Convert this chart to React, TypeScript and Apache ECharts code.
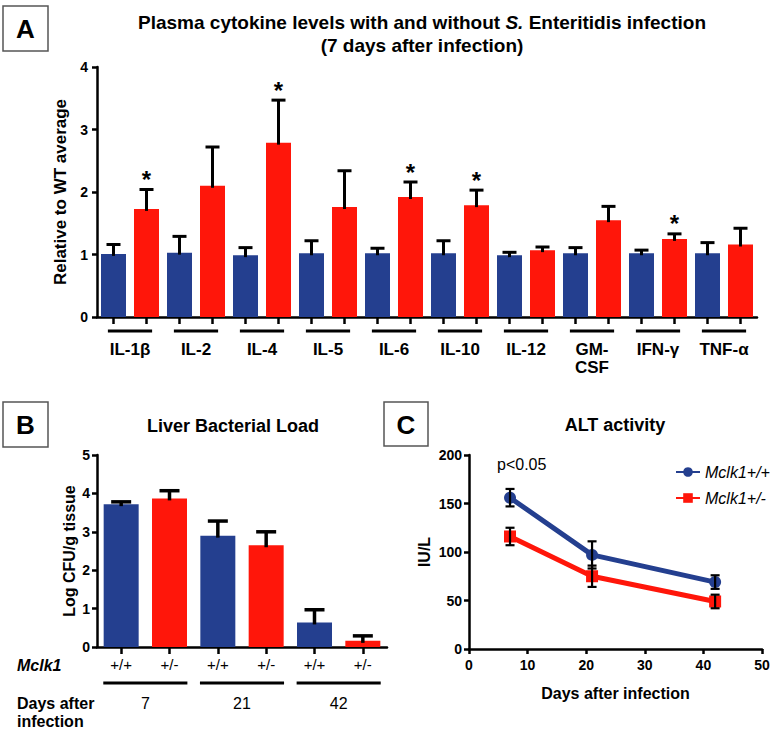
import React, { useEffect, useRef } from 'react';
import * as echarts from 'echarts';

// ---------- Panel A data ----------
const cytokines = ['IL-1β', 'IL-2', 'IL-4', 'IL-5', 'IL-6', 'IL-10', 'IL-12', 'GM-\nCSF', 'IFN-γ', 'TNF-α'];
const wtMean = [1.01, 1.03, 0.99, 1.02, 1.02, 1.02, 0.99, 1.02, 1.02, 1.02];
const wtErr = [0.15, 0.26, 0.12, 0.2, 0.08, 0.2, 0.045, 0.09, 0.05, 0.17];
const koMean = [1.73, 2.1, 2.79, 1.76, 1.92, 1.79, 1.07, 1.55, 1.25, 1.16];
const koErr = [0.31, 0.62, 0.68, 0.58, 0.24, 0.24, 0.05, 0.22, 0.08, 0.26];
const koSignificant = [true, false, true, false, true, true, false, false, true, false];

// ---------- Panel B data ----------
const genotypes = ['+/+', '+/-'];
const loadDays = ['7', '21', '42'];
const loadWt = [3.72, 2.9, 0.64];
const loadWtErr = [0.06, 0.38, 0.33];
const loadKo = [3.87, 2.65, 0.16];
const loadKoErr = [0.2, 0.35, 0.13];

// ---------- Panel C data ----------
const altDays = [7, 21, 42];
const altWt = [156, 97, 69];
const altWtErr = [9, 14, 7];
const altKo = [116, 75, 49];
const altKoErr = [9, 11, 7];
const legendNames = ['Mclk1+/+', 'Mclk1+/-'];

const BLUE = '#243F8F';
const RED = '#FF160A';
const FF = '"Liberation Sans", Arial, sans-serif';

export default function App() {
  const ref = useRef<HTMLDivElement>(null);

  useEffect(() => {
    if (!ref.current) return;
    const chart = echarts.init(ref.current, null, { renderer: 'svg' });

    // Panel A slots
    const aSlots: string[] = [];
    const aBars: any[] = [];
    const aErr: any[] = [];
    cytokines.forEach((c, i) => {
      aSlots.push(c + '|WT', c + '|KO');
      aBars.push({ value: wtMean[i], itemStyle: { color: BLUE } });
      aBars.push({ value: koMean[i], itemStyle: { color: RED } });
      aErr.push([2 * i, wtMean[i], wtErr[i], 0]);
      aErr.push([2 * i + 1, koMean[i], koErr[i], koSignificant[i] ? 1 : 0]);
    });

    // Panel B slots
    const bSlots: string[] = [];
    const bBars: any[] = [];
    const bErr: any[] = [];
    loadDays.forEach((d, i) => {
      bSlots.push(d + ' ' + genotypes[0], d + ' ' + genotypes[1]);
      bBars.push({ value: loadWt[i], itemStyle: { color: BLUE } });
      bBars.push({ value: loadKo[i], itemStyle: { color: RED } });
      bErr.push([2 * i, loadWt[i], loadWtErr[i]]);
      bErr.push([2 * i + 1, loadKo[i], loadKoErr[i]]);
    });

    const cErr: any[] = [];
    altDays.forEach((d, i) => {
      cErr.push([d, altWt[i], altWtErr[i]]);
      cErr.push([d, altKo[i], altKoErr[i]]);
    });

    const axisLine = { show: true, lineStyle: { color: '#000', width: 2.5 } };
    const tickLbl = { color: '#000', fontFamily: FF, fontWeight: 'bold' as const, fontSize: 14 };

    const upErr = (cap: number, lw: number) => (params: any, api: any) => {
      const x = api.value(0);
      const v = api.value(1);
      const e = api.value(2);
      const sig = api.value(3);
      const base = api.coord([x, v]);
      const top = api.coord([x, v + e]);
      const children: any[] = [
        { type: 'line', shape: { x1: base[0], y1: base[1] + 2, x2: top[0], y2: top[1] }, style: { stroke: '#000', lineWidth: lw } },
        { type: 'line', shape: { x1: top[0] - cap, y1: top[1], x2: top[0] + cap, y2: top[1] }, style: { stroke: '#000', lineWidth: lw } },
      ];
      if (sig === 1) {
        children.push({
          type: 'text',
          style: { text: '*', x: top[0], y: top[1] - 10, align: 'center', verticalAlign: 'middle', font: 'bold 24px ' + FF, fill: '#000' },
        });
      }
      return { type: 'group', children };
    };

    const underline = (frac: number, dy: number) => (params: any, api: any) => {
      const p = api.coord([api.value(0), 0]);
      const w = api.size([1, 0])[0] * frac;
      return {
        type: 'line',
        shape: { x1: p[0] - w / 2, y1: p[1] + dy, x2: p[0] + w / 2, y2: p[1] + dy },
        style: { stroke: '#000', lineWidth: 3 },
      };
    };

    const option: any = {
      animation: false,
      backgroundColor: '#fff',
      grid: [
        { left: 97, top: 67, width: 660, height: 250 },
        { left: 97, top: 455, width: 290, height: 192 },
        { left: 469, top: 455, width: 293, height: 194 },
      ],
      xAxis: [
        {
          type: 'category', gridIndex: 0, data: aSlots,
          axisLine, axisTick: { show: true, alignWithLabel: true, interval: 0, length: 7, lineStyle: { color: '#000', width: 2.5 } },
          axisLabel: { show: false },
        },
        {
          type: 'category', gridIndex: 0, data: cytokines, position: 'bottom', offset: 16,
          axisLine: { show: false }, axisTick: { show: false },
          axisLabel: { interval: 0, margin: 7, color: '#000', fontFamily: FF, fontWeight: 'bold', fontSize: 17, lineHeight: 18 },
        },
        {
          type: 'category', gridIndex: 1, data: bSlots,
          axisLine, axisTick: { show: true, alignWithLabel: true, interval: 0, length: 7, lineStyle: { color: '#000', width: 2.5 } },
          axisLabel: { interval: 0, margin: 10, color: '#000', fontFamily: FF, fontSize: 15, formatter: (v: string, i: number) => genotypes[i % 2] },
        },
        {
          type: 'category', gridIndex: 1, data: loadDays, position: 'bottom', offset: 40,
          axisLine: { show: false }, axisTick: { show: false },
          axisLabel: { interval: 0, margin: 8, color: '#000', fontFamily: FF, fontSize: 16 },
        },
        {
          type: 'value', gridIndex: 2, min: 0, max: 50, interval: 10,
          axisLine, axisTick: { show: true, length: 5, lineStyle: { color: '#000', width: 2.5 } },
          splitLine: { show: false },
          axisLabel: { ...tickLbl, margin: 9 },
          name: 'Days after infection', nameLocation: 'middle', nameGap: 36,
          nameTextStyle: { color: '#000', fontFamily: FF, fontWeight: 'bold', fontSize: 16 },
        },
      ],
      yAxis: [
        {
          type: 'value', gridIndex: 0, min: 0, max: 4, interval: 1,
          axisLine, axisTick: { show: true, length: 5, lineStyle: { color: '#000', width: 2.5 } },
          splitLine: { show: false },
          axisLabel: { ...tickLbl, margin: 9 },
          name: 'Relative to WT average', nameLocation: 'middle', nameGap: 16,
          nameTextStyle: { color: '#000', fontFamily: FF, fontWeight: 'bold', fontSize: 17 },
        },
        {
          type: 'value', gridIndex: 1, min: 0, max: 5, interval: 1,
          axisLine, axisTick: { show: true, length: 5, lineStyle: { color: '#000', width: 2.5 } },
          splitLine: { show: false },
          axisLabel: { ...tickLbl, margin: 7 },
          name: 'Log CFU/g tissue', nameLocation: 'middle', nameGap: 20,
          nameTextStyle: { color: '#000', fontFamily: FF, fontWeight: 'bold', fontSize: 16 },
        },
        {
          type: 'value', gridIndex: 2, min: 0, max: 200, interval: 50,
          axisLine, axisTick: { show: true, length: 5, lineStyle: { color: '#000', width: 2.5 } },
          splitLine: { show: false },
          axisLabel: { ...tickLbl, margin: 7 },
          name: 'IU/L', nameLocation: 'middle', nameGap: 37,
          nameTextStyle: { color: '#000', fontFamily: FF, fontWeight: 'bold', fontSize: 16 },
        },
      ],
      legend: {
        data: legendNames,
        orient: 'vertical', left: 670, top: 459,
        itemWidth: 24, itemHeight: 12, itemGap: 10,
        textStyle: { color: '#000', fontFamily: FF, fontStyle: 'italic', fontSize: 16 },
      },
      series: [
        { type: 'bar', name: 'cytokines', xAxisIndex: 0, yAxisIndex: 0, data: aBars, barWidth: 25, z: 2 },
        { type: 'custom', name: 'aErr', xAxisIndex: 0, yAxisIndex: 0, data: aErr, renderItem: upErr(7, 3), z: 3 },
        { type: 'custom', name: 'aUnder', xAxisIndex: 1, yAxisIndex: 0, data: cytokines.map((_, i) => [i, 0]), renderItem: underline(0.67, 14), z: 3 },
        { type: 'bar', name: 'load', xAxisIndex: 2, yAxisIndex: 1, data: bBars, barWidth: 35, z: 2 },
        { type: 'custom', name: 'bErr', xAxisIndex: 2, yAxisIndex: 1, data: bErr, renderItem: upErr(10, 3.5), z: 3 },
        { type: 'custom', name: 'bUnder', xAxisIndex: 3, yAxisIndex: 1, data: loadDays.map((_, i) => [i, 0]), renderItem: underline(0.87, 36), z: 3 },
        {
          type: 'line', name: legendNames[0], xAxisIndex: 4, yAxisIndex: 2,
          data: altDays.map((d, i) => [d, altWt[i]]),
          color: BLUE, lineStyle: { width: 5, color: BLUE }, itemStyle: { color: BLUE },
          symbol: 'circle', symbolSize: 12, z: 2,
        },
        {
          type: 'line', name: legendNames[1], xAxisIndex: 4, yAxisIndex: 2,
          data: altDays.map((d, i) => [d, altKo[i]]),
          color: RED, lineStyle: { width: 5, color: RED }, itemStyle: { color: RED },
          symbol: 'rect', symbolSize: 12, z: 2,
        },
        {
          type: 'custom', name: 'cErr', xAxisIndex: 4, yAxisIndex: 2, data: cErr, z: 4,
          renderItem: (params: any, api: any) => {
            const x = api.value(0), v = api.value(1), e = api.value(2);
            const t = api.coord([x, v + e]);
            const b = api.coord([x, v - e]);
            const st = { stroke: '#000', lineWidth: 2.2 };
            return {
              type: 'group',
              children: [
                { type: 'line', shape: { x1: t[0], y1: t[1], x2: b[0], y2: b[1] }, style: st },
                { type: 'line', shape: { x1: t[0] - 4.5, y1: t[1], x2: t[0] + 4.5, y2: t[1] }, style: st },
                { type: 'line', shape: { x1: b[0] - 4.5, y1: b[1], x2: b[0] + 4.5, y2: b[1] }, style: st },
              ],
            };
          },
        },
      ],
      graphic: [
        { type: 'rect', shape: { x: 3, y: 6, width: 45, height: 45 }, style: { fill: 'none', stroke: '#555', lineWidth: 1.5 } },
        { type: 'text', style: { text: 'A', x: 25.5, y: 29, align: 'center', verticalAlign: 'middle', font: 'bold 26px ' + FF, fill: '#000' } },
        { type: 'rect', shape: { x: 3, y: 402, width: 45, height: 45 }, style: { fill: 'none', stroke: '#555', lineWidth: 1.5 } },
        { type: 'text', style: { text: 'B', x: 25.5, y: 425, align: 'center', verticalAlign: 'middle', font: 'bold 26px ' + FF, fill: '#000' } },
        { type: 'rect', shape: { x: 384, y: 402, width: 44, height: 44 }, style: { fill: 'none', stroke: '#555', lineWidth: 1.5 } },
        { type: 'text', style: { text: 'C', x: 406, y: 425, align: 'center', verticalAlign: 'middle', font: 'bold 26px ' + FF, fill: '#000' } },
        {
          type: 'text',
          style: {
            text: '{b|Plasma cytokine levels with and without }{i|S.}{b| Enteritidis infection}',
            x: 422, y: 22, align: 'center', verticalAlign: 'middle',
            rich: {
              b: { font: 'bold 19px ' + FF, fill: '#000', fontWeight: 'bold', fontSize: 19, fontFamily: FF },
              i: { font: 'italic bold 19px ' + FF, fill: '#000', fontWeight: 'bold', fontStyle: 'italic', fontSize: 19, fontFamily: FF },
            },
          },
        },
        { type: 'text', style: { text: '(7 days after infection)', x: 422, y: 45, align: 'center', verticalAlign: 'middle', font: 'bold 19px ' + FF, fill: '#000' } },
        { type: 'text', style: { text: 'Liver Bacterial Load', x: 233, y: 426, align: 'center', verticalAlign: 'middle', font: 'bold 18px ' + FF, fill: '#000' } },
        { type: 'text', style: { text: 'ALT activity', x: 615, y: 425, align: 'center', verticalAlign: 'middle', font: 'bold 18px ' + FF, fill: '#000' } },
        { type: 'text', style: { text: 'p<0.05', x: 497, y: 464, align: 'left', verticalAlign: 'middle', font: '16px ' + FF, fill: '#000' } },
        { type: 'text', style: { text: 'Mclk1', x: 17, y: 665, align: 'left', verticalAlign: 'middle', font: 'italic bold 16px ' + FF, fill: '#000' } },
        { type: 'text', style: { text: 'Days after', x: 17, y: 703, align: 'left', verticalAlign: 'middle', font: 'bold 16px ' + FF, fill: '#000' } },
        { type: 'text', style: { text: 'infection', x: 17, y: 721, align: 'left', verticalAlign: 'middle', font: 'bold 16px ' + FF, fill: '#000' } },
      ],
    };

    chart.setOption(option);
    return () => chart.dispose();
  }, []);

  return (
    <div
      ref={ref}
      style={{ position: 'fixed', left: 0, top: 0, width: 777, height: 730, background: '#fff' }}
    />
  );
}
